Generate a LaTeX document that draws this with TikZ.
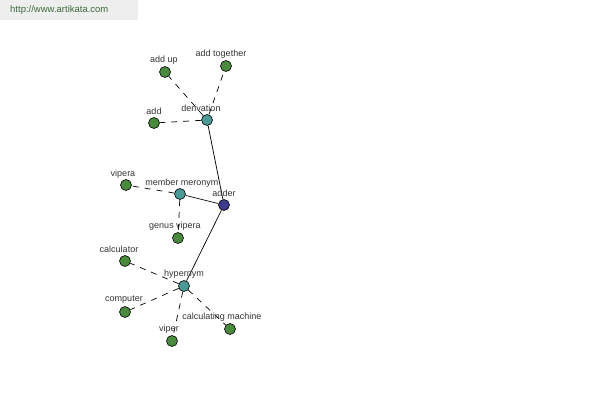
\documentclass[tikz,border=0pt]{standalone}
\usepackage{fontspec}
\setmainfont{Liberation Sans}
\begin{document}
\begin{tikzpicture}[x=1pt,y=-1pt,
  dot/.style={circle,draw=black,line width=0.6pt,minimum size=11pt,inner sep=0pt},
  leaf/.style={dot,fill=leafgreen},
  hub/.style={dot,fill=hubteal},
  root/.style={dot,fill=rootblue},
  lbl/.style={font=\fontsize{9}{10}\selectfont,text=labelgray,inner sep=0pt},
  rel/.style={line width=0.7pt,black},
  sub/.style={line width=0.7pt,black,dash pattern=on 6pt off 6pt}]
\definecolor{leafgreen}{HTML}{4A8A3E}
\definecolor{hubteal}{HTML}{4A9A98}
\definecolor{rootblue}{HTML}{3C3C8C}
\definecolor{labelgray}{HTML}{333333}
\definecolor{headgray}{HTML}{EEEEEE}
\definecolor{headtext}{HTML}{3C6A3C}
\useasboundingbox (0,0) rectangle (600,400);
\fill[headgray] (0,0) rectangle (138,20);
\node[font=\fontsize{9.5}{10}\selectfont,text=headtext,anchor=west,inner sep=0pt] (url) at (10,10) {http://www.artikata.com};
% nodes
\node[root] (adder) at (224,205) {};
\node[hub] (deriv) at (207,120) {};
\node[hub] (mero) at (180,194) {};
\node[hub] (hyper) at (184,286) {};
\node[leaf] (addup) at (165,72) {};
\node[leaf] (addtog) at (226,66) {};
\node[leaf] (add) at (154,123) {};
\node[leaf] (vipera) at (126,185) {};
\node[leaf] (genus) at (178,238) {};
\node[leaf] (calc) at (125,261) {};
\node[leaf] (comp) at (125,312) {};
\node[leaf] (viper) at (172,341) {};
\node[leaf] (calcm) at (230,329) {};
% edges
\draw[rel] (adder) -- (deriv);
\draw[rel] (adder) -- (mero);
\draw[rel] (adder) -- (hyper);
\draw[sub] (deriv) -- (addup);
\draw[sub] (deriv) -- (addtog);
\draw[sub] (deriv) -- (add);
\draw[sub] (mero) -- (vipera);
\draw[sub] (mero) -- (genus);
\draw[sub] (hyper) -- (calc);
\draw[sub] (hyper) -- (comp);
\draw[sub] (hyper) -- (viper);
\draw[sub] (hyper) -- (calcm);
% labels
\node[lbl] (l-adder) at (224,193) {adder};
\node[lbl] (l-deriv) at (201,108) {derivation};
\node[lbl] (l-mero) at (182,183) {member meronym};
\node[lbl] (l-hyper) at (184,274) {hypernym};
\node[lbl] (l-addup) at (164,60) {add up};
\node[lbl] (l-addtog) at (221,54) {add together};
\node[lbl] (l-add) at (154,111) {add};
\node[lbl] (l-vipera) at (123,174) {vipera};
\node[lbl] (l-genus) at (175,226) {genus vipera};
\node[lbl] (l-calc) at (119,249) {calculator};
\node[lbl] (l-comp) at (124,300) {computer};
\node[lbl] (l-viper) at (169,329) {viper};
\node[lbl] (l-calcm) at (222,317) {calculating machine};
\end{tikzpicture}
\end{document}
